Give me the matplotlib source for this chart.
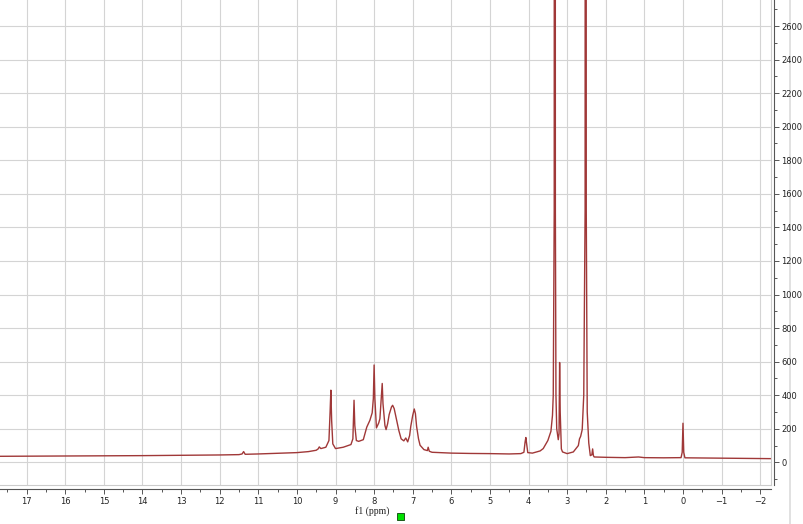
import matplotlib
matplotlib.use('Agg')
import matplotlib.pyplot as plt
from matplotlib.lines import Line2D
from matplotlib.patches import Rectangle
from matplotlib.ticker import MultipleLocator

# 1H NMR trace (ppm, intensity)
ppm = [17.7, 16.0, 14.0, 12.0, 11.5, 11.42, 11.38, 11.34, 11.0, 10.5, 10.0, 9.7,
       9.5, 9.45, 9.42, 9.38, 9.25, 9.17, 9.14, 9.12, 9.10, 9.07, 9.0, 8.8, 8.6,
       8.55, 8.53, 8.52, 8.50, 8.46, 8.40, 8.28, 8.19, 8.11, 8.05, 8.02, 8.00,
       7.98, 7.94, 7.88, 7.85, 7.81, 7.79, 7.77, 7.72, 7.69, 7.65, 7.61, 7.55,
       7.52, 7.48, 7.42, 7.36, 7.30, 7.23, 7.18, 7.13, 7.08, 7.05, 7.00, 6.96,
       6.93, 6.90, 6.85, 6.81, 6.71, 6.62, 6.60, 6.57, 6.50, 6.0, 5.5, 5.0, 4.5,
       4.2, 4.12, 4.09, 4.07, 4.05, 4.02, 3.9, 3.7, 3.62, 3.50, 3.42, 3.38, 3.36,
       3.335, 3.32, 3.305, 3.29, 3.27, 3.23, 3.21, 3.195, 3.18, 3.15, 3.12, 3.0,
       2.84, 2.71, 2.68, 2.65, 2.61, 2.57, 2.535, 2.52, 2.505, 2.48, 2.44, 2.40,
       2.36, 2.34, 2.32, 2.30, 2.0, 1.5, 1.15, 1.0, 0.5, 0.05, 0.02, 0.0, -0.02,
       -0.05, -1.0, -2.0, -2.3]
intensity = [36, 38, 40, 44, 46, 50, 64, 48, 50, 54, 58, 64,
             72, 80, 92, 82, 90, 130, 300, 430, 250, 110, 82, 90, 106,
             140, 300, 370, 220, 130, 125, 135, 210, 250, 295, 380, 580,
             380, 205, 235, 260, 400, 470, 350, 220, 195, 230, 285, 330,
             340, 320, 255, 190, 140, 128, 145, 122, 160, 215, 280, 318,
             290, 215, 140, 102, 76, 70, 90, 66, 60, 55, 53, 52, 50,
             52, 60, 120, 148, 110, 58, 55, 68, 82, 130, 185, 280, 400,
             1500, 20000, 1500, 400, 200, 135, 170, 595, 300, 80, 62, 52,
             62, 100, 140, 155, 195, 400, 1500, 20000, 1500, 300, 115, 40,
             45, 80, 40, 32, 30, 28, 32, 28, 27, 28, 60, 233, 60,
             27, 25, 23, 22]

x_ticks = list(range(-2, 18))
y_ticks = list(range(0, 2800, 200))

fig = plt.figure(figsize=(8.04, 5.24), dpi=100)

# window border on the right, behind the tick labels
fig.add_artist(Line2D([790 / 804, 790 / 804], [0, 1], transform=fig.transFigure,
                      color='#dcdcdc', lw=1.2, zorder=-5))

ax = fig.add_axes([0, 39 / 524, 771 / 804, 485 / 524])

ax.plot(ppm, intensity, color='#a03838', lw=1.0)

ax.set_xlim(17.69, -2.28)
ax.set_ylim(-135, 2755)

ax.xaxis.set_major_locator(MultipleLocator(1))
ax.xaxis.set_minor_locator(MultipleLocator(0.5))
ax.yaxis.set_major_locator(MultipleLocator(200))
ax.yaxis.set_minor_locator(MultipleLocator(100))
ax.grid(True, which='major', color='#d4d4d4', lw=0.8)
ax.set_axisbelow(True)

for side in ['top', 'left']:
    ax.spines[side].set_visible(False)
ax.spines['bottom'].set_position(('outward', 2.9))
ax.spines['right'].set_position(('outward', 2.2))
ax.spines['bottom'].set_color('#555555')
ax.spines['right'].set_color('#555555')

# light frame of the plot area
ax.add_line(Line2D([0, 1], [0, 0], transform=ax.transAxes, color='#cccccc', lw=0.8, clip_on=False))
ax.add_line(Line2D([1, 1], [0, 1], transform=ax.transAxes, color='#cccccc', lw=0.8, clip_on=False))

ax.yaxis.tick_right()
ax.tick_params(axis='both', which='major', direction='out', length=3.6, width=0.7,
               color='#555555', labelsize=6, labelcolor='#222222', pad=2)
ax.tick_params(axis='both', which='minor', direction='out', length=1.8, width=0.7,
               color='#555555')
ax.tick_params(axis='y', pad=1.5)

ax.set_xticks(x_ticks)
ax.set_xticklabels([str(t).replace('-', '\u2212') for t in x_ticks], family='DejaVu Sans')
ax.set_yticks(y_ticks)
ax.set_yticklabels([str(t) for t in y_ticks], family='DejaVu Sans')

fig.text(355 / 804, 1 - 511 / 524, 'f1 (ppm)', family='Liberation Serif', fontsize=7,
         va='center', ha='left', color='#222222')
fig.patches.append(Rectangle((397 / 804, 1 - 520 / 524), 7 / 804, 7 / 524,
                             transform=fig.transFigure, facecolor='#00e000',
                             edgecolor='#1a5a1a', lw=0.7))

fig.savefig('out.png', dpi=100)
